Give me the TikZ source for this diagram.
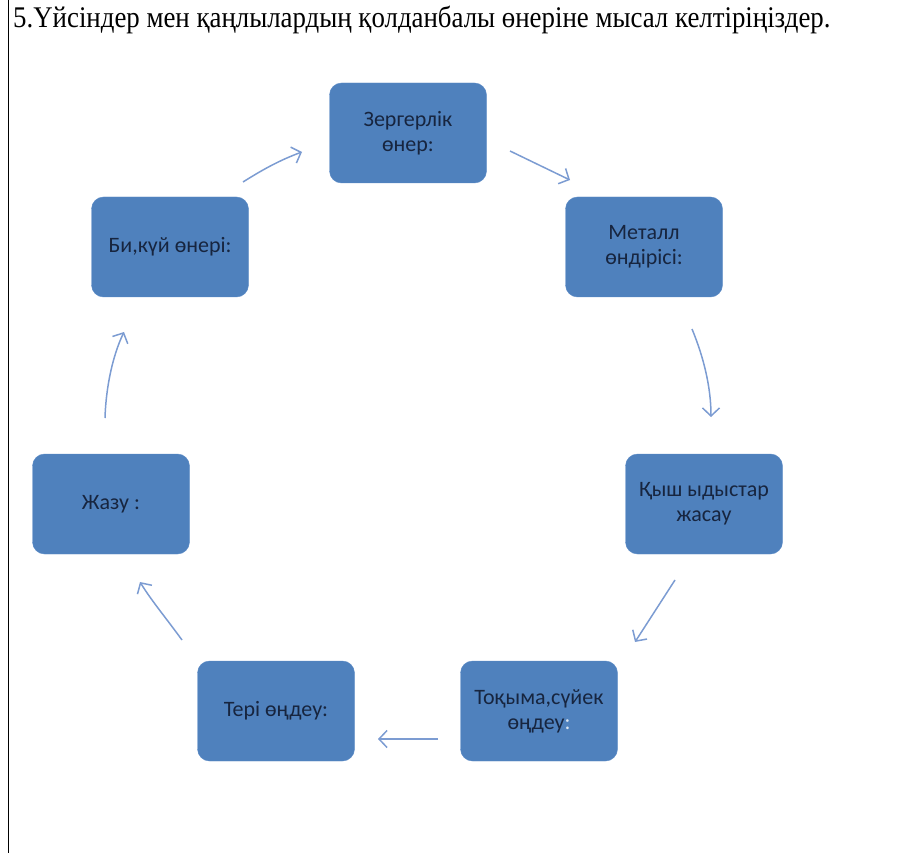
\documentclass[tikz,border=0pt]{standalone}
\usepackage{fontspec}
\setmainfont{Liberation Serif}
\newfontfamily\boxfont{Carlito}
\usetikzlibrary{arrows.meta}

\definecolor{boxblue}{HTML}{4F81BD}
\definecolor{boxedge}{HTML}{5B8AC6}
\definecolor{boxtext}{HTML}{17253F}
\definecolor{arrowblue}{HTML}{7C9CD2}

\tikzset{
    stage/.style={draw=boxedge, fill=boxblue, rounded corners=12pt,
        minimum width=157pt, minimum height=100pt, align=center,
        text=boxtext, font=\boxfont\fontsize{22}{25}\selectfont},
    flow/.style={draw=arrowblue, line width=1.5pt,
        -{Straight Barb[length=8pt,width=17pt]}}
}

\begin{document}
\begin{tikzpicture}[x=1pt, y=-1pt]

    \useasboundingbox (0,0) rectangle (903,853);
    \draw[line width=1.5pt] (8.5,0) -- (8.5,853);
    \node[anchor=base west, inner sep=0pt, font=\fontsize{30}{30}\selectfont] (title) at (13,28)
        {\scalebox{0.895}[1]{5.Үйсіндер мен қаңлылардың қолданбалы өнеріне мысал келтіріңіздер.}};

    % the seven boxes, clockwise from the top
    \node[stage] (zerger) at (408,133) {Зергерлік\\өнер:};
    \node[stage] (metall) at (644,247) {Металл\\өндірісі:};
    \node[stage] (kysh) at (704,504) {Қыш ыдыстар\\жасау};
    \node[stage] (tokyma) at (539,711) {Тоқыма,сүйек\\өңдеу\textcolor{white!80!boxblue}{:}};
    \node[stage] (teri) at (276,711) {Тері өңдеу:};
    \node[stage] (zhazu) at (111,504) {Жазу :};
    \node[stage] (bikui) at (170,247) {Би,күй өнері:};

    % free ends of the arrows
    \coordinate (a1) at (243,182); \coordinate (a2) at (302,152);
    \coordinate (b1) at (510,151); \coordinate (b2) at (570,180);
    \coordinate (c1) at (692,329); \coordinate (c2) at (711,417);
    \coordinate (d1) at (675,580); \coordinate (d2) at (635,642);
    \coordinate (e1) at (438,739); \coordinate (e2) at (378,739);
    \coordinate (f1) at (182,640); \coordinate (f2) at (140,582);
    \coordinate (g1) at (105,418); \coordinate (g2) at (124,332);

    \draw[flow] (a1) .. controls (262,170) and (280,160) .. (a2);
    \draw[flow] (b1) -- (b2);
    \draw[flow] (c1) .. controls (704,358) and (711,388) .. (c2);
    \draw[flow] (d1) -- (d2);
    \draw[flow] (e1) -- (e2);
    \draw[flow] (f1) .. controls (166,618) and (151,600) .. (f2);
    \draw[flow] (g1) .. controls (106,386) and (113,355) .. (g2);

\end{tikzpicture}
\end{document}
